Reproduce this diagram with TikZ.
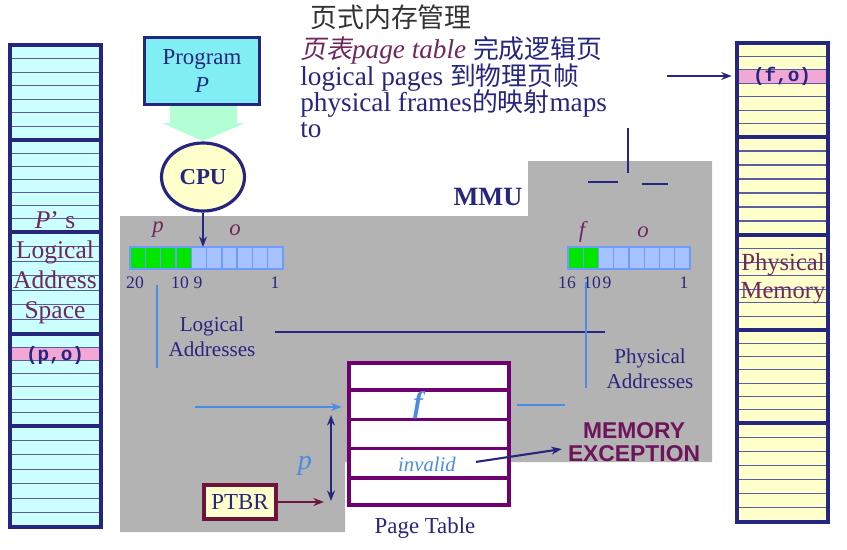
\documentclass[tikz,border=0pt]{standalone}
\usepackage{fontspec}
\setmainfont{Liberation Serif}
\newfontfamily\cjkfont[AutoFakeSlant=0.2]{Noto Sans CJK SC}
\newfontfamily\codefont{Liberation Mono}
\newfontfamily\alertfont{Liberation Sans}
\usetikzlibrary{calc, positioning}
\usetikzlibrary{arrows.meta}
\usetikzlibrary{shapes.geometric}

\definecolor{navyink}{RGB}{38,38,128}
\definecolor{plum}{RGB}{112,40,92}
\definecolor{mmugray}{RGB}{179,179,179}
\definecolor{lineblue}{RGB}{74,140,230}
\definecolor{pagepurple}{RGB}{112,0,112}
\definecolor{exccolor}{RGB}{110,20,90}
\definecolor{cyanpale}{RGB}{204,255,255}
\definecolor{progcyan}{RGB}{128,238,242}
\definecolor{yellowpale}{RGB}{255,255,204}
\definecolor{pinkrow}{RGB}{242,168,212}
\definecolor{mint}{RGB}{178,255,214}
\definecolor{bitgreen}{RGB}{0,230,0}
\definecolor{bitblue}{RGB}{166,194,255}
\definecolor{bitedge}{RGB}{110,155,255}
\definecolor{ptbredge}{RGB}{110,20,60}

\begin{document}
\begin{tikzpicture}[x=0.2mm, y=-0.2mm,
  rowline/.style={navyink!75, line width=0.6pt},
  secline/.style={navyink, line width=2pt},
  bitcell/.style={draw=bitedge, line width=0.8pt},
  bitnum/.style={text=navyink, font=\fontsize{10}{12}\selectfont, inner sep=0pt},
  field/.style={text=plum, font=\fontsize{13}{15}\selectfont\itshape, inner sep=0pt},
  blueline/.style={lineblue, line width=1.2pt},
  navyline/.style={navyink, line width=1.2pt},
  tip/.style={-{Stealth[length=6pt, width=4.5pt]}},
  caption/.style={text=navyink, align=center, font=\fontsize{12}{14}\selectfont, inner sep=0pt},
  colname/.style={text=plum, align=center, inner sep=0pt},
  addr/.style={text=navyink, font=\codefont\fontsize{11}{12}\selectfont\bfseries, inner sep=0pt},
  note/.style={anchor=base west, inner sep=0pt, text=navyink, font=\fontsize{15.5}{17}\selectfont}]
\def\px{0.2mm}

\useasboundingbox (0,0) rectangle (847,549);
\fill[white] (0,0) rectangle (847,549);

\fill[mmugray] (120,216) -- (528,216) -- (528,161) -- (712,161) -- (712,462)
  -- (345,462) -- (345,532) -- (120,532) -- cycle;

\fill[cyanpale] (10,45) rectangle (101,527);
\fill[pinkrow] (10,{334+92/7}) rectangle (101,{334+2*92/7});
\foreach \ya/\yb in {45/140,140/232,232/334,334/426,426/527} {
  \foreach \k in {1,...,6}
    \draw[rowline] (10,{\ya+\k*(\yb-\ya)/7}) -- (101,{\ya+\k*(\yb-\ya)/7});
  \draw[secline] (10,\yb) -- (101,\yb);
}
\draw[secline] (10,45) rectangle (101,527);

\fill[yellowpale] (737,43) rectangle (828,522);
\fill[pinkrow] (737,{43+2*94/7}) rectangle (828,{43+3*94/7});
\foreach \ya/\yb in {43/137,137/235,235/330,330/423,423/522} {
  \foreach \k in {1,...,6}
    \draw[rowline] (737,{\ya+\k*(\yb-\ya)/7}) -- (828,{\ya+\k*(\yb-\ya)/7});
  \draw[secline] (737,\yb) -- (828,\yb);
}
\draw[secline] (737,43) rectangle (828,522);
\coordinate (pmemnw) at (737,43);

\node[colname, font=\fontsize{14.5}{17}\selectfont] (lspace) at (55,268)
  {\textit{P}'\ s\\Logical\\Address\\Space};
\node[addr] (lpo) at (55,355) {(p,o)};
\node[colname, font=\fontsize{14}{16}\selectfont] (pspace) at (783,279)
  {Physical\\Memory};
\node[addr] (pfo) at (782,76) {(f,o)};

\node[draw=navyink, line width=1.5pt, fill=progcyan, minimum width=115*\px,
  minimum height=67*\px, align=center, text=navyink,
  font=\fontsize{13}{16}\selectfont] (prog) at (202,71) {Program\\\textit{P}};
\fill[mint] (170,106) -- (237,106) -- (237,123) -- (245,123) -- (203,141)
  -- (162,123) -- (170,123) -- cycle;
\node[ellipse, draw=navyink, line width=1.8pt, fill=yellowpale,
  minimum width=74*\px, minimum height=68*\px, text=navyink,
  font=\fontsize{13}{15}\selectfont\bfseries] (cpu) at (203,177) {CPU};

\node[text=navyink, font=\fontsize{15}{17}\selectfont\bfseries] (mmu) at (488,197) {MMU};

\foreach \i in {0,...,3}
  \draw[bitcell, fill=bitgreen] ({130+\i*15.3},247) rectangle +(15.3,22);
\foreach \i in {4,...,9}
  \draw[bitcell, fill=bitblue] ({130+\i*15.3},247) rectangle +(15.3,22);
\coordinate (lregnw) at (130,247);
\foreach \i in {0,1}
  \draw[bitcell, fill=bitgreen] ({568+\i*15.25},247) rectangle +(15.25,22);
\foreach \i in {2,...,7}
  \draw[bitcell, fill=bitblue] ({568+\i*15.25},247) rectangle +(15.25,22);

\node[field] (lp) at (158,230) {p};
\node[field] (lo) at (235,230) {o};
\node[field] (rf) at (582,232) {f};
\node[field] (ro) at (643,232) {o};
\node[bitnum] (l20) at (135,283) {20};
\node[bitnum] (l10) at (180,283) {10};
\node[bitnum] (l9) at (198,283) {9};
\node[bitnum] (l1) at (275,283) {1};
\node[bitnum] (r16) at (567,283) {16};
\node[bitnum] (r10) at (592,283) {10};
\node[bitnum] (r9) at (607,283) {9};
\node[bitnum] (r1) at (684,283) {1};

\draw[navyline, tip] (cpu.south) -- (cpu.south |- lregnw);

\node[caption] (laddr) at (212,337) {Logical\\Addresses};
\node[caption] (paddr) at (650,369) {Physical\\Addresses};

\node[draw=pagepurple, line width=2.4pt, fill=white, minimum width=160*\px,
  minimum height=142*\px] (ptab) at (429,434) {};
\foreach \k in {1,...,4}
  \draw[pagepurple, line width=2pt] ($(ptab.north west)!\k/5!(ptab.south west)$)
    -- ($(ptab.north east)!\k/5!(ptab.south east)$);
\node[text=lineblue, font=\fontsize{17}{19}\selectfont\bfseries\itshape] (fval) at (418,405) {f};
\node[text=lineblue, font=\fontsize{11.8}{14}\selectfont\itshape] (inval) at (427,464) {invalid};
\node[text=navyink, font=\fontsize{13}{15}\selectfont] (ptcap) at (425,528) {Page Table};

\node[text=exccolor, align=center, font=\alertfont\fontsize{13}{13}\selectfont\bfseries]
  (mexc) at (634,442) {MEMORY\\EXCEPTION};

\node[draw=ptbredge, line width=1.8pt, fill=yellowpale, minimum width=72*\px,
  minimum height=34*\px, text=navyink, font=\fontsize{13}{15}\selectfont] (ptbr) at (240,502) {PTBR};
\node[text=lineblue, font=\fontsize{16}{18}\selectfont\itshape] (poff) at (305,466) {p};

\coordinate (ltop) at (157,285);
\coordinate (lbot) at (157,368);
\draw[blueline] (ltop) -- (lbot);
\coordinate (tin) at (195,407);
\draw[blueline, tip, shorten >=3pt] (tin) -- (tin -| ptab.west);
\coordinate (pentry) at (331,415);
\coordinate (pbase) at (331,501);
\draw[navyline, {Stealth[length=6pt, width=4.5pt]}-{Stealth[length=6pt, width=4.5pt]}] (pentry) -- (pbase);
\draw[ptbredge, line width=1.2pt, tip, shorten >=4pt] (ptbr.east) -- (ptbr.east -| pbase);

\coordinate (fl1) at (275,332);
\coordinate (fl2) at (605,332);
\draw[navyline] (fl1) -- (fl2);
\coordinate (rtop) at (586,282);
\coordinate (rbot) at (586,388);
\draw[blueline] (rtop) -- (rbot);
\coordinate (fo1) at (517,405);
\coordinate (fo2) at (565,405);
\draw[blueline] (fo1) -- (fo2);

\draw[navyline, tip, shorten <=8pt] (inval.east) -- ([yshift=-4pt]mexc.west);

\coordinate (tick1) at (628,128);
\coordinate (tick2) at (628,173);
\draw[navyline] (tick1) -- (tick2);
\coordinate (dasha1) at (588,182);
\coordinate (dasha2) at (618,182);
\draw[navyline] (dasha1) -- (dasha2);
\coordinate (dashb1) at (642,184);
\coordinate (dashb2) at (668,184);
\draw[navyline] (dashb1) -- (dashb2);

\coordinate (mapfrom) at (667,76);
\draw[navyline, tip, shorten >=3pt] (mapfrom) -- (mapfrom -| pmemnw);

\node[note, text=black!80, font=\cjkfont\fontsize{15.3}{17}\selectfont] (title) at (310,27) {页式内存管理};
\node[note] (note1) at (300,58) {{\color{plum}\itshape{\cjkfont\fontsize{14.7}{17}\selectfont 页表}page table} {\cjkfont\fontsize{14.7}{17}\selectfont 完成逻辑页}};
\node[note] (note2) at (300,85) {logical pages {\cjkfont\fontsize{14.7}{17}\selectfont 到物理页帧}};
\node[note] (note3) at (300,111) {physical frames{\cjkfont\fontsize{14.7}{17}\selectfont 的映射}maps};
\node[note] (note4) at (300,137) {to};
\end{tikzpicture}
\end{document}
